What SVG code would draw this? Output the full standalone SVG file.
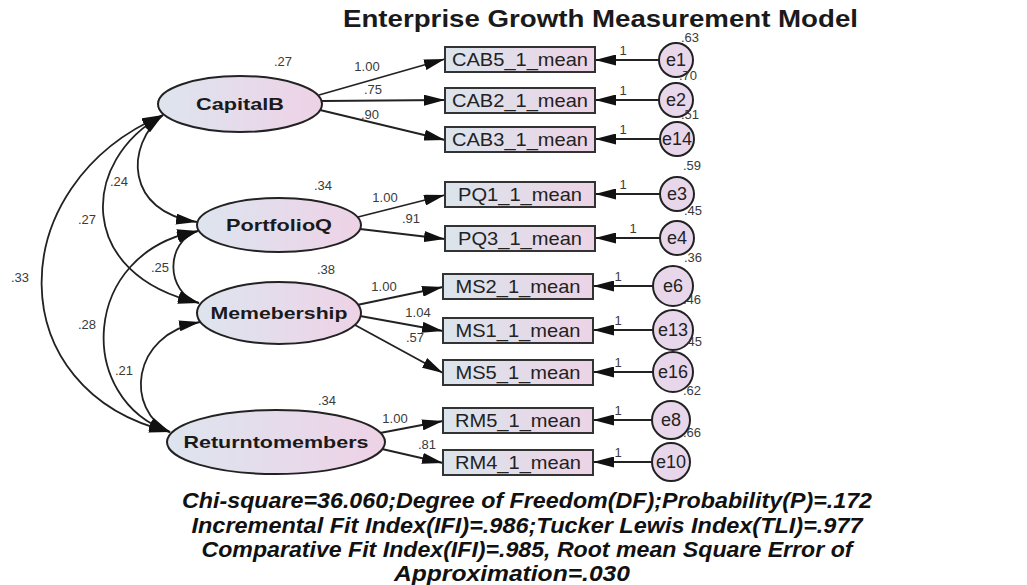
<svg xmlns="http://www.w3.org/2000/svg" width="1027" height="585" viewBox="0 0 1027 585">
<defs>
<linearGradient id="gEll" x1="0" y1="0" x2="1" y2="0"><stop offset="0" stop-color="#dde5ef"/><stop offset="1" stop-color="#eed2e6"/></linearGradient>
<linearGradient id="gBox" x1="0" y1="0" x2="1" y2="0"><stop offset="0" stop-color="#dbe4ec"/><stop offset="1" stop-color="#ecd3e6"/></linearGradient>
<marker id="ah" viewBox="0 0 20 10" refX="20" refY="5" markerWidth="21" markerHeight="11" markerUnits="userSpaceOnUse" orient="auto-start-reverse" preserveAspectRatio="none"><path d="M0,0 L20,5 L0,10 z" fill="#111"/></marker>
</defs>
<style>
.lat{fill:url(#gEll);stroke:#222;stroke-width:2}
.obs{fill:url(#gBox);stroke:#333;stroke-width:2}
.err{fill:#e8d7eb;stroke:#222;stroke-width:2}
.ln{fill:none;stroke:#222;stroke-width:1.8}
.one{marker-end:url(#ah)}
.two{marker-start:url(#ah);marker-end:url(#ah)}
text{font-family:"Liberation Sans",Arial,sans-serif}
.tl{font-weight:bold;font-size:17px;fill:#1a1a1a;text-anchor:middle}
.tb{font-size:18.5px;fill:#222;text-anchor:middle}
.te{font-size:18px;fill:#222;text-anchor:middle}
.num{font-size:13px;fill:#3a3a3a;text-anchor:middle}
.title{font-size:24px;font-weight:bold;fill:#1a1a1a}
.fit{font-size:21.5px;font-weight:bold;font-style:italic;fill:#111;text-anchor:middle}
</style>
<rect width="1027" height="585" fill="#ffffff"/>
<text class="title" x="343" y="27" textLength="515" lengthAdjust="spacingAndGlyphs">Enterprise Growth Measurement Model</text>

<g id="connectors">
<path class="ln one" d="M319,95 L445,59"/>
<path class="ln one" d="M322,101 L445,100"/>
<path class="ln one" d="M320,110 L445,140"/>
<path class="ln one" d="M358,217 L445,195"/>
<path class="ln one" d="M360,229 L445,239"/>
<path class="ln one" d="M357,305 L443,287"/>
<path class="ln one" d="M360,316 L443,331"/>
<path class="ln one" d="M355,325 L443,373"/>
<path class="ln one" d="M380,433 L443,421"/>
<path class="ln one" d="M382,449 L443,463"/>
<path class="ln one" d="M659,60 L595,60"/>
<path class="ln one" d="M659,100 L595,100"/>
<path class="ln one" d="M660,139 L595,139"/>
<path class="ln one" d="M660,194 L595,194"/>
<path class="ln one" d="M660,238 L595,238"/>
<path class="ln one" d="M653,286 L593,286"/>
<path class="ln one" d="M653,330 L593,330"/>
<path class="ln one" d="M653,372 L593,372"/>
<path class="ln one" d="M652,420 L593,420"/>
<path class="ln one" d="M652,462 L593,462"/>
<path class="ln two" d="M163,115 C125,145 125,212 197,222"/>
<path class="ln two" d="M163,115 C80,160 75,275 199,303"/>
<path class="ln two" d="M163,115 C0,185 0,392 170,432"/>
<path class="ln two" d="M198,231 C165,242 165,292 199,303"/>
<path class="ln two" d="M198,231 C80,252 75,400 170,432"/>
<path class="ln two" d="M200,322 C130,335 125,410 170,432"/>
<text class="num" x="119" y="186">.24</text>
<text class="num" x="87" y="224">.27</text>
<text class="num" x="20" y="282">.33</text>
<text class="num" x="160" y="272">.25</text>
<text class="num" x="87" y="329">.28</text>
<text class="num" x="124" y="375">.21</text>
<text class="num" x="367" y="71">1.00</text>
<text class="num" x="373" y="94">.75</text>
<text class="num" x="370" y="119">.90</text>
<text class="num" x="385" y="202">1.00</text>
<text class="num" x="411" y="223">.91</text>
<text class="num" x="384" y="291">1.00</text>
<text class="num" x="418" y="317">1.04</text>
<text class="num" x="415" y="342">.57</text>
<text class="num" x="395" y="423">1.00</text>
<text class="num" x="427" y="449">.81</text>
<text class="num" x="623" y="55">1</text>
<text class="num" x="623" y="95">1</text>
<text class="num" x="623" y="134">1</text>
<text class="num" x="623" y="189">1</text>
<text class="num" x="633" y="233">1</text>
<text class="num" x="618" y="281">1</text>
<text class="num" x="618" y="325">1</text>
<text class="num" x="618" y="367">1</text>
<text class="num" x="618" y="415">1</text>
<text class="num" x="618" y="457">1</text>
</g>

<g id="CapitalB"><ellipse class="lat" cx="240" cy="104" rx="82" ry="28"/><text class="tl" x="240" y="110" textLength="88" lengthAdjust="spacingAndGlyphs">CapitalB</text><text class="num" x="283" y="66">.27</text></g>
<g id="PortfolioQ"><ellipse class="lat" cx="279" cy="225" rx="82" ry="27"/><text class="tl" x="279" y="231" textLength="106" lengthAdjust="spacingAndGlyphs">PortfolioQ</text><text class="num" x="323" y="190">.34</text></g>
<g id="Memebership"><ellipse class="lat" cx="279" cy="313" rx="82" ry="31"/><text class="tl" x="279" y="319" textLength="137" lengthAdjust="spacingAndGlyphs">Memebership</text><text class="num" x="326" y="274">.38</text></g>
<g id="Returntomembers"><ellipse class="lat" cx="276" cy="442" rx="109" ry="32"/><text class="tl" x="276" y="448" textLength="185" lengthAdjust="spacingAndGlyphs">Returntomembers</text><text class="num" x="327" y="405">.34</text></g>

<g id="CAB5_1_mean"><rect class="obs" x="445" y="47" width="150" height="25"/><text class="tb" x="520" y="66" textLength="136" lengthAdjust="spacingAndGlyphs">CAB5_1_mean</text></g>
<g id="CAB2_1_mean"><rect class="obs" x="445" y="88" width="150" height="25"/><text class="tb" x="520" y="107" textLength="136" lengthAdjust="spacingAndGlyphs">CAB2_1_mean</text></g>
<g id="CAB3_1_mean"><rect class="obs" x="445" y="127" width="150" height="25"/><text class="tb" x="520" y="146" textLength="136" lengthAdjust="spacingAndGlyphs">CAB3_1_mean</text></g>
<g id="PQ1_1_mean"><rect class="obs" x="445" y="182" width="150" height="25"/><text class="tb" x="520" y="201" textLength="124" lengthAdjust="spacingAndGlyphs">PQ1_1_mean</text></g>
<g id="PQ3_1_mean"><rect class="obs" x="445" y="226" width="150" height="25"/><text class="tb" x="520" y="245" textLength="124" lengthAdjust="spacingAndGlyphs">PQ3_1_mean</text></g>
<g id="MS2_1_mean"><rect class="obs" x="443" y="274" width="150" height="25"/><text class="tb" x="518" y="293" textLength="125" lengthAdjust="spacingAndGlyphs">MS2_1_mean</text></g>
<g id="MS1_1_mean"><rect class="obs" x="443" y="318" width="150" height="25"/><text class="tb" x="518" y="337" textLength="125" lengthAdjust="spacingAndGlyphs">MS1_1_mean</text></g>
<g id="MS5_1_mean"><rect class="obs" x="443" y="360" width="150" height="25"/><text class="tb" x="518" y="379" textLength="125" lengthAdjust="spacingAndGlyphs">MS5_1_mean</text></g>
<g id="RM5_1_mean"><rect class="obs" x="443" y="408" width="150" height="25"/><text class="tb" x="518" y="427" textLength="126" lengthAdjust="spacingAndGlyphs">RM5_1_mean</text></g>
<g id="RM4_1_mean"><rect class="obs" x="443" y="450" width="150" height="25"/><text class="tb" x="518" y="469" textLength="126" lengthAdjust="spacingAndGlyphs">RM4_1_mean</text></g>

<g id="e1"><circle class="err" cx="676" cy="60" r="17"/><text class="te" x="676" y="66">e1</text><text class="num" x="690" y="42">.63</text></g>
<g id="e2"><circle class="err" cx="676" cy="100" r="17"/><text class="te" x="676" y="106">e2</text><text class="num" x="688" y="80">.70</text></g>
<g id="e14"><circle class="err" cx="677" cy="139" r="17"/><text class="te" x="677" y="145">e14</text><text class="num" x="690" y="119">.51</text></g>
<g id="e3"><circle class="err" cx="677" cy="194" r="17"/><text class="te" x="677" y="200">e3</text><text class="num" x="692" y="170">.59</text></g>
<g id="e4"><circle class="err" cx="677" cy="238" r="17"/><text class="te" x="677" y="244">e4</text><text class="num" x="693" y="215">.45</text></g>
<g id="e6"><circle class="err" cx="673" cy="286" r="20"/><text class="te" x="673" y="292">e6</text><text class="num" x="693" y="262">.36</text></g>
<g id="e13"><circle class="err" cx="673" cy="330" r="20"/><text class="te" x="673" y="336">e13</text><text class="num" x="692" y="304">.46</text></g>
<g id="e16"><circle class="err" cx="673" cy="372" r="20"/><text class="te" x="673" y="378">e16</text><text class="num" x="693" y="346">.45</text></g>
<g id="e8"><circle class="err" cx="671" cy="420" r="19"/><text class="te" x="671" y="426">e8</text><text class="num" x="692" y="395">.62</text></g>
<g id="e10"><circle class="err" cx="671" cy="462" r="19"/><text class="te" x="671" y="468">e10</text><text class="num" x="692" y="437">.66</text></g>

<text class="fit" x="527" y="508" textLength="690" lengthAdjust="spacingAndGlyphs">Chi-square=36.060;Degree of Freedom(DF);Probability(P)=.172</text>
<text class="fit" x="527" y="533" textLength="671" lengthAdjust="spacingAndGlyphs">Incremental Fit Index(IFI)=.986;Tucker Lewis Index(TLI)=.977</text>
<text class="fit" x="527" y="557" textLength="651" lengthAdjust="spacingAndGlyphs">Comparative Fit Index(IFI)=.985, Root mean Square Error of</text>
<text class="fit" x="512" y="581" textLength="236" lengthAdjust="spacingAndGlyphs">Approximation=.030</text>
</svg>
